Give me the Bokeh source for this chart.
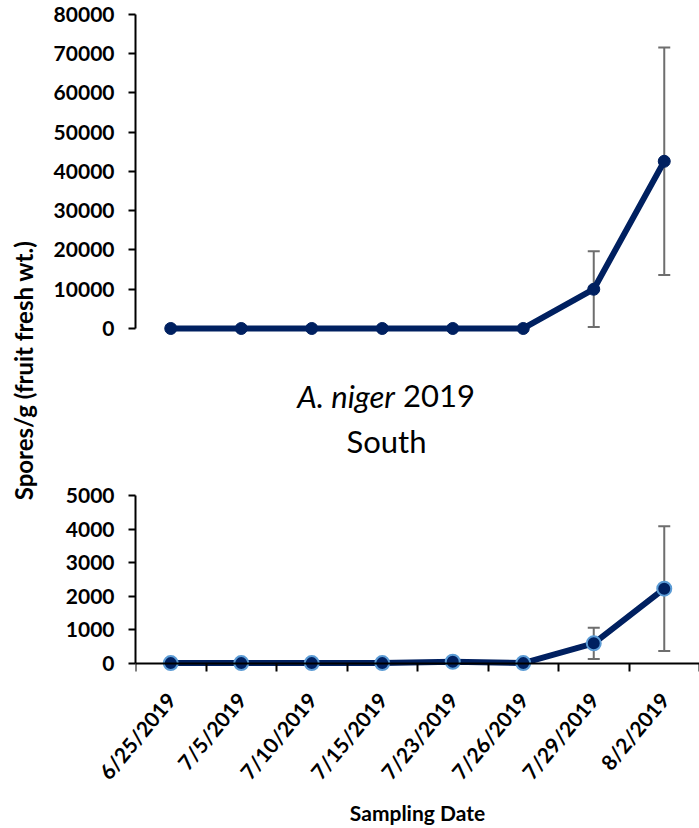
import math

from bokeh.core.properties import value
from bokeh.embed import file_html
from bokeh.layouts import column, row
from bokeh.models import (ColumnDataSource, FixedTicker, LinearAxis,
                          NumeralTickFormatter, Range1d, TeeHead, Whisker)
from bokeh.plotting import figure
from bokeh.resources import INLINE

# ---- data -------------------------------------------------------------
dates = ["6/25/2019", "7/5/2019", "7/10/2019", "7/15/2019",
         "7/23/2019", "7/26/2019", "7/29/2019", "8/2/2019"]

upper_mean = [0, 0, 0, 0, 0, 0, 10000, 42600]
upper_err = [0, 0, 0, 0, 0, 0, 9650, 29000]

south_mean = [0, 0, 0, 0, 40, 0, 590, 2220]
south_err = [0, 0, 0, 0, 0, 0, 465, 1860]

upper_ticks = [0, 10000, 20000, 30000, 40000, 50000, 60000, 70000, 80000]
south_ticks = [0, 1000, 2000, 3000, 4000, 5000]

y_title = "Spores/g (fruit fresh wt.)"
x_title = "Sampling Date"
species = "A. niger"
season = "2019"
site = "South"

# ---- style ------------------------------------------------------------
FONT = "Lato"
NAVY = "#002060"
LIGHT_BLUE = "#5b9bd5"
ERR_GREY = "#6e6e6e"
PANEL_W = 661
SIDE_W = 38
LEFT = 97

xs = [i + 0.5 for i in range(len(dates))]
x_range = Range1d(0, len(dates))


def strip(height):
    """Axis-free strip sharing the panels' x scale, used for free text."""
    p = figure(width=PANEL_W, height=height, x_range=x_range, y_range=(0, height),
               toolbar_location=None, output_backend="svg",
               x_axis_location=None, y_axis_location=None,
               min_border_left=LEFT, min_border_right=0,
               min_border_top=0, min_border_bottom=0)
    p.outline_line_color = None
    p.grid.visible = False
    return p


def panel(height, y_range, ticks, border_top, border_bottom):
    p = figure(width=PANEL_W, height=height, x_range=x_range, y_range=y_range,
               toolbar_location=None, output_backend="svg",
               x_axis_location=None, y_axis_location=None,
               min_border_left=LEFT, min_border_right=0,
               min_border_top=border_top, min_border_bottom=border_bottom)
    p.outline_line_color = None
    p.grid.visible = False
    yaxis = LinearAxis(ticker=FixedTicker(ticks=ticks), bounds=(ticks[0], ticks[-1]),
                       formatter=NumeralTickFormatter(format="0"),
                       axis_line_width=2, axis_line_color="black",
                       major_tick_out=7, major_tick_in=0, major_tick_line_width=2,
                       minor_tick_line_color=None,
                       major_label_standoff=14,
                       major_label_text_font=FONT, major_label_text_font_style="bold",
                       major_label_text_font_size="21px", major_label_text_color="black")
    p.add_layout(yaxis, "left")
    return p


def error_bars(p, mean, err):
    keep = [i for i, e in enumerate(err) if e > 0]
    src = ColumnDataSource(dict(
        x=[xs[i] for i in keep],
        upper=[mean[i] + err[i] for i in keep],
        lower=[mean[i] - err[i] for i in keep],
    ))
    w = Whisker(base="x", upper="upper", lower="lower", source=src,
                line_color=ERR_GREY, line_width=2, level="underlay",
                upper_head=TeeHead(size=12, line_color=ERR_GREY, line_width=2),
                lower_head=TeeHead(size=12, line_color=ERR_GREY, line_width=2))
    p.add_layout(w)


# ---- upper panel ------------------------------------------------------
top = panel(350, Range1d(-3570, 80000), upper_ticks, 14, 8)
error_bars(top, upper_mean, upper_err)
top_src = ColumnDataSource(dict(x=xs, y=upper_mean))
top.line("x", "y", source=top_src, line_color=NAVY, line_width=6, line_join="round")
top.scatter("x", "y", source=top_src, size=12, fill_color=NAVY, line_color=NAVY)

# ---- title block ------------------------------------------------------
mid = strip(130)
mid.text(x=[3.68], y=[85], text=[species], text_align="right", text_baseline="middle",
         text_font=value(FONT), text_font_style="italic", text_font_size="31px",
         text_color="black")
mid.text(x=[3.795], y=[85], text=[season], text_align="left", text_baseline="middle",
         text_font=value(FONT), text_font_size="31px", text_color="black")
mid.text(x=[3.56], y=[40], text=[site], text_align="center", text_baseline="middle",
         text_font=value(FONT), text_font_size="31px", text_color="black")

# ---- lower panel ------------------------------------------------------
bottom = panel(319, Range1d(-250, 5000), south_ticks, 15, 128)

# axis line and boundary ticks sit on y = 0
base_axis = LinearAxis(ticker=FixedTicker(ticks=xs, minor_ticks=list(range(len(dates) + 1))),
                       fixed_location=0,
                       axis_line_width=2, axis_line_color="black",
                       major_tick_line_color=None, major_tick_out=0, major_tick_in=0,
                       minor_tick_out=9, minor_tick_in=0, minor_tick_line_width=2,
                       minor_tick_line_color="black",
                       major_label_text_color=None)
bottom.add_layout(base_axis, "below")

# date labels, centred under each sampling point
date_axis = LinearAxis(ticker=FixedTicker(ticks=xs),
                       major_label_overrides={x: d for x, d in zip(xs, dates)},
                       axis_line_color=None,
                       major_tick_line_color=None, major_tick_out=0, major_tick_in=0,
                       minor_tick_line_color=None,
                       major_label_orientation=math.radians(50),
                       major_label_standoff=24,
                       major_label_text_font=FONT, major_label_text_font_style="bold",
                       major_label_text_font_size="21px", major_label_text_color="black")
bottom.add_layout(date_axis, "below")

error_bars(bottom, south_mean, south_err)
bot_src = ColumnDataSource(dict(x=xs, y=south_mean))
bottom.line("x", "y", source=bot_src, line_color=NAVY, line_width=6, line_join="round")
bottom.scatter("x", "y", source=bot_src, size=14, fill_color=NAVY,
               line_color=LIGHT_BLUE, line_width=2)

# ---- axis titles ------------------------------------------------------
foot = strip(29)
foot.text(x=[len(dates) / 2], y=[16], text=[x_title], text_align="center",
          text_baseline="middle", text_font=value(FONT), text_font_style="bold",
          text_font_size="21px", text_color="black")

side = figure(width=SIDE_W, height=828, x_range=(0, SIDE_W), y_range=(0, 828),
              toolbar_location=None, output_backend="svg",
              x_axis_location=None, y_axis_location=None, min_border=0)
side.outline_line_color = None
side.grid.visible = False
side.text(x=[23], y=[458], text=[y_title], angle=math.pi / 2,
          text_align="center", text_baseline="middle",
          text_font=value(FONT), text_font_style="bold", text_font_size="24px",
          text_color="black")

layout = row(side, column(top, mid, bottom, foot))

open("out.html", "w").write(file_html(layout, INLINE))
